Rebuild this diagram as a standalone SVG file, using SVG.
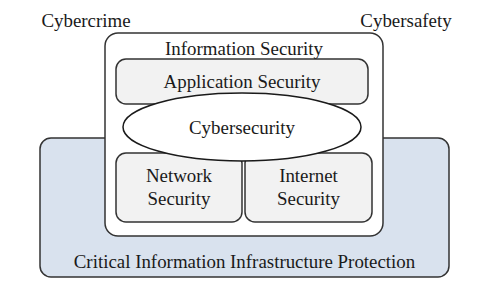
<svg xmlns="http://www.w3.org/2000/svg" width="489" height="288" viewBox="0 0 489 288">
<style>
text{font-family:"Liberation Serif","Times New Roman",serif;font-size:18.9px;fill:#1a1a1a;text-anchor:middle}
.box{fill:#f2f2f2;stroke:#333;stroke-width:1.5}
</style>
<rect width="489" height="288" fill="#fff"/>
<g id="cipp">
<rect x="40" y="138" width="409" height="139" rx="11" fill="#d9e2ee" stroke="#333" stroke-width="1.5"/>
<text x="244.5" y="268">Critical Information Infrastructure Protection</text>
</g>
<g id="cybercrime"><text x="86" y="27">Cybercrime</text></g>
<g id="cybersafety"><text x="406" y="27">Cybersafety</text></g>
<g id="infosec">
<rect x="105" y="33" width="278" height="203" rx="13" fill="#fff" stroke="#333" stroke-width="1.5"/>
<text x="244" y="55">Information Security</text>
</g>
<g id="appsec">
<rect class="box" x="116" y="59" width="252" height="45" rx="10"/>
<text x="242" y="88">Application Security</text>
</g>
<g id="netsec">
<rect class="box" x="116" y="153" width="126" height="69" rx="10"/>
<text x="179" y="182">Network</text>
<text x="179" y="205">Security</text>
</g>
<g id="inetsec">
<rect class="box" x="245" y="153" width="127" height="69" rx="10"/>
<text x="308.5" y="182">Internet</text>
<text x="308.5" y="205">Security</text>
</g>
<g id="cybersec">
<ellipse cx="242" cy="127" rx="119" ry="34" fill="#fff" stroke="#1a1a1a" stroke-width="1.5"/>
<text x="242" y="134">Cybersecurity</text>
</g>
<g id="connectors"/>
</svg>
